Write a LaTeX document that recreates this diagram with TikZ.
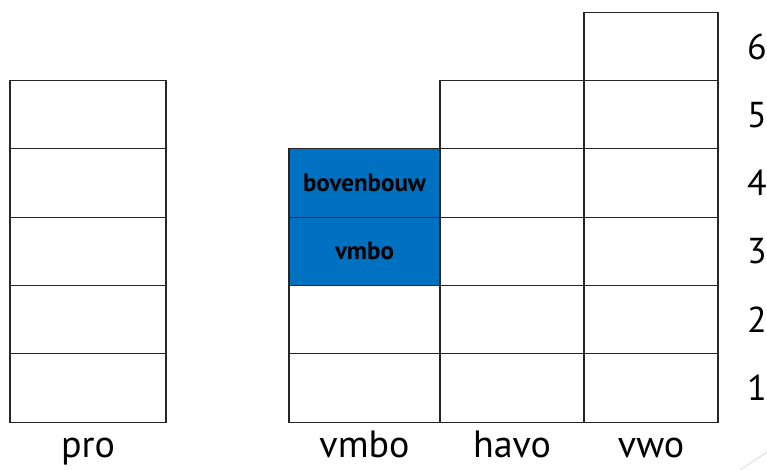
\documentclass[tikz,border=0pt]{standalone}
\usepackage{fontspec}
\setmainfont{PT Sans}
\usepackage{xcolor}
\usepackage{tikz}
\usetikzlibrary{positioning}
\definecolor{schoolblue}{RGB}{0,112,192}

\begin{document}
\begin{tikzpicture}[x=1pt,y=1pt,node distance=0pt]
	\tikzstyle{cell}=[draw=black!85, line width=1.1pt, rectangle, inner sep=0pt, outer sep=0pt, minimum height=68.3pt]
	\tikzstyle{bluecell}=[cell, fill=schoolblue]
	\tikzstyle{year}=[inner sep=0pt, font=\fontsize{36}{40}\selectfont]
	\tikzstyle{stream}=[inner sep=0pt, text height=28pt, text depth=7pt, font=\fontsize{38}{44}\selectfont]
	\tikzstyle{tag}=[font=\bfseries\fontsize{25}{28}\selectfont]
	\useasboundingbox (0,0) rectangle (767,470);
	% pro
	\node[cell, minimum width=156pt] (pro1) at (88,82) {};
	\foreach \i [count=\j from 2] in {1,...,4}
		\node[cell, minimum width=156pt, above=of pro\i] (pro\j) {};
	% vmbo
	\node[cell, minimum width=151pt] (vmbo1) at (364.5,82) {};
	\node[cell, minimum width=151pt, above=of vmbo1] (vmbo2) {};
	\node[bluecell, minimum width=151pt, above=of vmbo2] (vmbo3) {};
	\node[bluecell, minimum width=151pt, above=of vmbo3] (vmbo4) {};
	\node[tag] at (vmbo3) {vmbo};
	\node[tag] at (vmbo4) {bovenbouw};
	% havo
	\node[cell, minimum width=144pt, right=of vmbo1] (havo1) {};
	\foreach \i [count=\j from 2] in {1,...,4}
		\node[cell, minimum width=144pt, above=of havo\i] (havo\j) {};
	% vwo
	\node[cell, minimum width=134pt, right=of havo1] (vwo1) {};
	\foreach \i [count=\j from 2] in {1,...,5}
		\node[cell, minimum width=134pt, above=of vwo\i] (vwo\j) {};
	% leerjaren
	\foreach \i in {1,...,6}
		\node[year, right=29pt of vwo\i] (year\i) {\i};
	% namen
	\node[stream, below=7pt of pro1] (lblpro) {pro};
	\node[stream, below=7pt of vmbo1] (lblvmbo) {vmbo};
	\node[stream, below=7pt of havo1] (lblhavo) {havo};
	\node[stream, below=7pt of vwo1] (lblvwo) {vwo};
	\draw[black!15, line width=0.8pt] (740,0) -- (767,18);
\end{tikzpicture}
\end{document}
